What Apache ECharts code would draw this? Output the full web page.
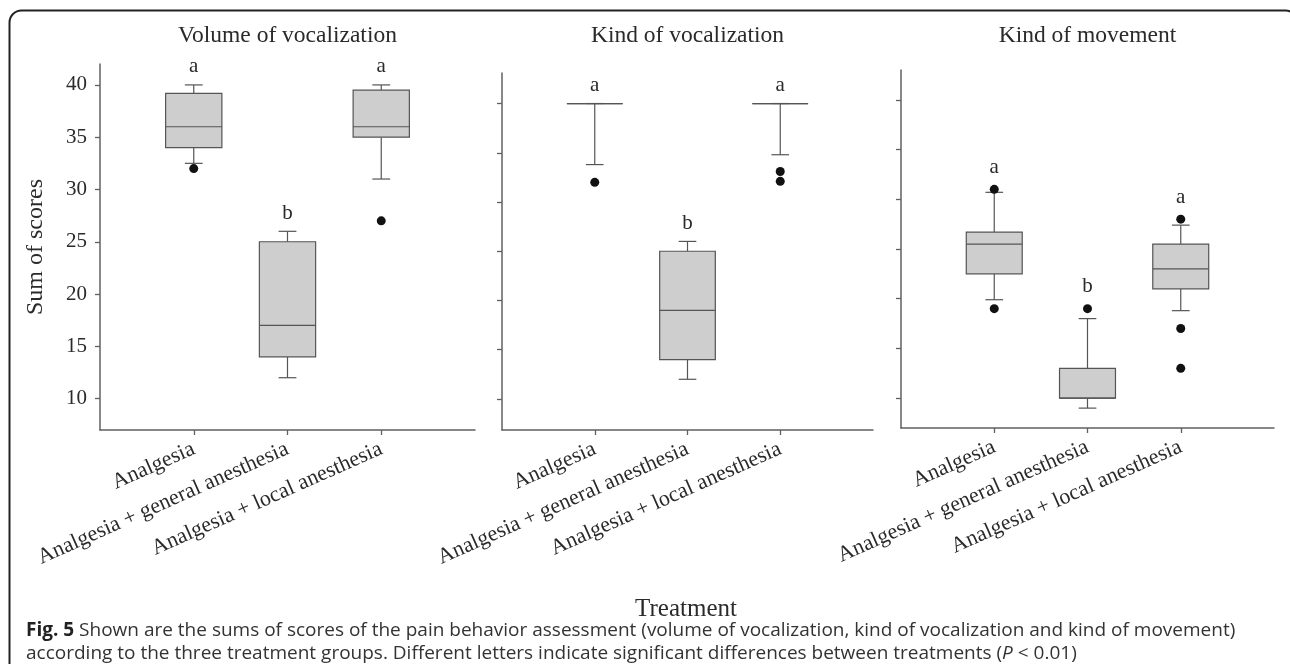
<!DOCTYPE html>
<html><head><meta charset="utf-8">
<script src="https://cdn.jsdelivr.net/npm/echarts@6/dist/echarts.min.js"></script>
<style>html,body{margin:0;padding:0;background:#fff}#c{width:1290px;height:664px}</style>
</head><body><div id="c"></div>
<script>
// ---- data ----
const categories = ['Analgesia', 'Analgesia + general anesthesia', 'Analgesia + local anesthesia'];
const panelTitles = ['Volume of vocalization', 'Kind of vocalization', 'Kind of movement'];
const yTicks = [10, 15, 20, 25, 30, 35, 40];
const yAxisName = 'Sum of scores';
const xAxisName = 'Treatment';
// per group: [lower whisker, Q1, median, Q3, upper whisker]
const volumeBox = [[32.5, 34, 36, 39.2, 40], [12, 14, 17, 25, 26], [31, 35, 36, 39.5, 40]];
const volumeOutliers = [[0, 32], [2, 27]];
const volumeLetters = ['a', 'b', 'a'];
const kindVocBox = [[33.8, 40, 40, 40, 40], [12, 14, 19, 25, 26], [34.8, 40, 40, 40, 40]];
const kindVocOutliers = [[0, 32], [2, 33.1], [2, 32.1]];
const kindVocLetters = ['a', 'b', 'a'];
const movementBox = [[19.9, 22.5, 25.5, 26.7, 30.7], [9, 10, 10, 13, 18], [18.8, 21, 23, 25.5, 27.4]];
const movementOutliers = [[0, 31], [0, 19], [1, 19], [2, 28], [2, 17], [2, 13]];
const movementLetters = ['a', 'b', 'a'];
const caption1 = 'Shown are the sums of scores of the pain behavior assessment (volume of vocalization, kind of vocalization and kind of movement)';
const caption2a = 'according to the three treatment groups. Different letters indicate significant differences between treatments (';
const caption2b = ' < 0.01)';

const panels = [
  {box: volumeBox, out: volumeOutliers, letters: volumeLetters, min: 7, max: 42, showLabels: true},
  {box: kindVocBox, out: kindVocOutliers, letters: kindVocLetters, min: 6.85, max: 43.1, showLabels: false},
  {box: movementBox, out: movementOutliers, letters: movementLetters, min: 7, max: 43, showLabels: false}
];
const grids = [
  {left: 100, top: 64, width: 375, height: 366},
  {left: 502, top: 73, width: 371, height: 357},
  {left: 901, top: 70, width: 373, height: 358}
];

const SERIF = '"Liberation Serif", "Times New Roman", serif';
const SANS = '"Open Sans", sans-serif';
const AX = '#606060';
const TXT = '#2a2a2a';
const CAP = 19;

function renderBox(params, api) {
  const x = api.value(0);
  const lo = api.coord([x, api.value(1)]);
  const q1 = api.coord([x, api.value(2)]);
  const md = api.coord([x, api.value(3)]);
  const q3 = api.coord([x, api.value(4)]);
  const hi = api.coord([x, api.value(5)]);
  const band = api.size([1, 0])[0];
  const bw = band * 0.6, cw = band * 0.19;
  const cx = lo[0];
  const st = {stroke: '#555', lineWidth: 1.2, fill: null};
  return {type: 'group', children: [
    {type: 'line', shape: {x1: cx, y1: hi[1], x2: cx, y2: q3[1]}, style: st},
    {type: 'line', shape: {x1: cx, y1: q1[1], x2: cx, y2: lo[1]}, style: st},
    {type: 'line', shape: {x1: cx - cw / 2, y1: hi[1], x2: cx + cw / 2, y2: hi[1]}, style: st},
    {type: 'line', shape: {x1: cx - cw / 2, y1: lo[1], x2: cx + cw / 2, y2: lo[1]}, style: st},
    {type: 'rect', shape: {x: cx - bw / 2, y: q3[1], width: bw, height: q1[1] - q3[1]}, style: {fill: '#cecece', stroke: '#555', lineWidth: 1.2}},
    {type: 'line', shape: {x1: cx - bw / 2, y1: md[1], x2: cx + bw / 2, y2: md[1]}, style: st}
  ]};
}

function makeLetterRenderer(letters) {
  return function (params, api) {
    const x = api.value(0);
    const p = api.coord([x, api.value(1)]);
    const fromOutlier = api.value(2) > 0;
    return {type: 'text', x: p[0], y: p[1] - (fromOutlier ? 22 : 18),
      style: {text: letters[params.dataIndex], font: '21px ' + SERIF, fill: TXT, textAlign: 'center', textVerticalAlign: 'middle'}};
  };
}

const xAxes = [], yAxes = [], series = [];
panels.forEach((p, i) => {
  xAxes.push({
    type: 'value', gridIndex: i, min: 0, max: 4,
    axisLine: {show: true, lineStyle: {color: AX, width: 1.5}},
    axisTick: {show: true, length: 5, lineStyle: {color: AX, width: 1.3}, customValues: [1, 2, 3]},
    axisLabel: {customValues: [1, 2, 3], formatter: v => categories[v - 1] || '', rotate: 24, margin: 18,
      fontFamily: SERIF, fontSize: 22, color: TXT},
    splitLine: {show: false}
  });
  yAxes.push({
    type: 'value', gridIndex: i, min: p.min, max: p.max,
    name: i === 0 ? yAxisName : '', nameLocation: 'middle', nameGap: 52,
    nameTextStyle: {fontFamily: SERIF, fontSize: 24, color: TXT},
    axisLine: {show: true, lineStyle: {color: AX, width: 1.5}},
    axisTick: {show: true, length: 5, lineStyle: {color: AX, width: 1.3}, customValues: yTicks},
    axisLabel: {show: p.showLabels, customValues: yTicks, margin: 13, fontFamily: SERIF, fontSize: 21, color: TXT},
    splitLine: {show: false}
  });
  series.push({
    type: 'custom', xAxisIndex: i, yAxisIndex: i,
    renderItem: renderBox,
    data: p.box.map((b, k) => [k + 1].concat(b)),
    z: 2
  });
  series.push({
    type: 'scatter', xAxisIndex: i, yAxisIndex: i,
    symbolSize: 9, itemStyle: {color: '#111', opacity: 1},
    data: p.out.map(o => [o[0] + 1, o[1]]),
    z: 3
  });
  series.push({
    type: 'custom', xAxisIndex: i, yAxisIndex: i, silent: true,
    renderItem: makeLetterRenderer(p.letters),
    data: p.letters.map((L, k) => {
      const whiskerTop = p.box[k][4];
      const outs = p.out.filter(o => o[0] === k).map(o => o[1]);
      const maxOut = outs.length ? Math.max.apply(null, outs) : -Infinity;
      return [k + 1, Math.max(whiskerTop, maxOut), maxOut > whiskerTop ? 1 : 0];
    }),
    z: 4
  });
});

const graphics = [
  {type: 'rect', shape: {x: 9.5, y: 10.5, width: 1288, height: 720, r: 12},
    style: {fill: null, stroke: '#222', lineWidth: 2}, silent: true},
  {type: 'text', x: 686, y: 609, style: {text: xAxisName, font: '25px ' + SERIF, fill: TXT, textAlign: 'center', textVerticalAlign: 'middle'}},
  {type: 'text', x: 26, y: 631, style: {
    text: '{b|Fig. 5} ' + caption1, rich: {b: {fontWeight: 'bold', fontFamily: SANS, fontSize: CAP, fill: '#222'}},
    fontFamily: SANS, fontSize: CAP, fill: '#333', textVerticalAlign: 'middle'}},
  {type: 'text', x: 26, y: 654, style: {
    text: caption2a + '{i|P}' + caption2b, rich: {i: {fontStyle: 'italic', fontFamily: SANS, fontSize: CAP, fill: '#333'}},
    fontFamily: SANS, fontSize: CAP, fill: '#333', textVerticalAlign: 'middle'}}
];
panelTitles.forEach((t, i) => {
  graphics.push({type: 'text', x: grids[i].left + grids[i].width / 2, y: 36,
    style: {text: t, font: '23.5px ' + SERIF, fill: TXT, textAlign: 'center', textVerticalAlign: 'middle'}});
});

const chart = echarts.init(document.getElementById('c'), null, {renderer: 'canvas'});
chart.setOption({
  animation: false,
  backgroundColor: '#fff',
  grid: grids,
  xAxis: xAxes,
  yAxis: yAxes,
  series: series,
  graphic: graphics
});
</script></body></html>
